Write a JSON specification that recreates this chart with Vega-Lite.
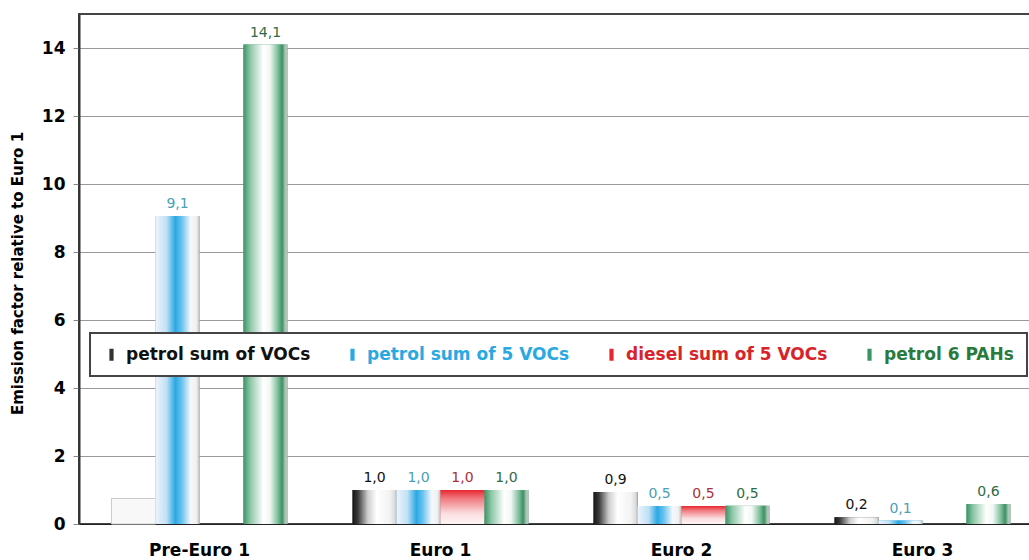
{
  "$schema": "https://vega.github.io/schema/vega-lite/v6.json",
  "autosize": {"type": "none"},
  "padding": {"left": 79, "top": 14, "right": 0, "bottom": 36},
  "width": 964,
  "height": 510,
  "background": "white",
  "config": {
    "font": "DejaVu Sans",
    "view": {"stroke": "#444", "strokeWidth": 2},
    "locale": {"number": {"decimal": ",", "thousands": ".", "grouping": [3], "currency": ["", " €"]}}
  },
  "data": {
    "values": [
      {"stage": "Pre-Euro 1", "series": "petrol sum of VOCs", "value": 0.75},
      {"stage": "Pre-Euro 1", "series": "petrol sum of 5 VOCs", "value": 9.06},
      {"stage": "Pre-Euro 1", "series": "petrol 6 PAHs", "value": 14.1},
      {"stage": "Euro 1", "series": "petrol sum of VOCs", "value": 1.0},
      {"stage": "Euro 1", "series": "petrol sum of 5 VOCs", "value": 1.0},
      {"stage": "Euro 1", "series": "diesel sum of 5 VOCs", "value": 1.0},
      {"stage": "Euro 1", "series": "petrol 6 PAHs", "value": 1.0},
      {"stage": "Euro 2", "series": "petrol sum of VOCs", "value": 0.94},
      {"stage": "Euro 2", "series": "petrol sum of 5 VOCs", "value": 0.53},
      {"stage": "Euro 2", "series": "diesel sum of 5 VOCs", "value": 0.53},
      {"stage": "Euro 2", "series": "petrol 6 PAHs", "value": 0.54},
      {"stage": "Euro 3", "series": "petrol sum of VOCs", "value": 0.2},
      {"stage": "Euro 3", "series": "petrol sum of 5 VOCs", "value": 0.1},
      {"stage": "Euro 3", "series": "petrol 6 PAHs", "value": 0.59}
    ]
  },
  "encoding": {
    "x": {
      "field": "stage", "type": "nominal",
      "sort": ["Pre-Euro 1", "Euro 1", "Euro 2", "Euro 3"],
      "scale": {"paddingInner": 0.27, "paddingOuter": 0.135},
      "axis": {
        "title": null, "labelAngle": 0, "labelFont": "DejaVu Sans", "labelFontWeight": "bold",
        "labelFontSize": 17, "labelColor": "#000", "labelPadding": 18, "ticks": false,
        "domainColor": "#222", "domainWidth": 1
      }
    },
    "xOffset": {
      "field": "series", "type": "nominal",
      "sort": ["petrol sum of VOCs", "petrol sum of 5 VOCs", "diesel sum of 5 VOCs", "petrol 6 PAHs"],
      "scale": {"domain": ["petrol sum of VOCs", "petrol sum of 5 VOCs", "diesel sum of 5 VOCs", "petrol 6 PAHs"], "paddingInner": 0, "paddingOuter": 0}
    },
    "y": {
      "field": "value", "type": "quantitative",
      "scale": {"domain": [0, 15], "nice": false},
      "axis": {
        "title": "Emission factor relative to Euro 1", "titleFontSize": 15, "titleFontWeight": "bold",
        "titleColor": "#000", "titlePadding": 16, "titleY": 259,
        "values": [0, 2, 4, 6, 8, 10, 12, 14], "labelFontSize": 17, "labelFontWeight": "bold",
        "labelColor": "#000", "labelPadding": 8, "tickSize": 6, "tickColor": "#888",
        "domainColor": "#333", "domainWidth": 2, "grid": true, "gridColor": "#9a9a9a", "gridWidth": 1
      }
    }
  },
  "layer": [
    {
      "mark": {"type": "bar"},
      "encoding": {
        "fill": {
          "field": "series", "type": "nominal",
          "scale": {
            "domain": ["petrol sum of VOCs", "petrol sum of 5 VOCs", "diesel sum of 5 VOCs", "petrol 6 PAHs"],
            "range": ["#333333", "#2aa8e4", "#e8262f", "#3a9466"]
          },
          "legend": {
            "title": null, "orient": "none", "direction": "horizontal", "legendX": 11, "legendY": 319,
            "padding": 13, "columnPadding": 33, "labelFontSize": 17, "labelFontWeight": "bold",
            "labelFont": "DejaVu Sans", "labelOffset": 6, "symbolSize": 144,
            "symbolType": "M-0.35,-1H0.35V1H-0.35Z", "symbolStrokeWidth": 0,
            "strokeColor": "#444", "fillColor": "white", "labelLimit": 400,
            "encode": {
              "labels": {"update": {"fill": {"signal": "datum.label === 'petrol sum of VOCs' ? '#111111' : datum.label === 'petrol sum of 5 VOCs' ? '#29a9e1' : datum.label === 'diesel sum of 5 VOCs' ? '#d8232a' : '#2a7a3e'"}}},
              "legend": {"update": {"strokeWidth": {"value": 2}}}
            }
          }
        }
      }
    },
    {
      "mark": {"type": "bar"},
      "encoding": {
        "fill": {
          "condition": [
            {"test": "datum.stage === 'Pre-Euro 1' && datum.series === 'petrol sum of VOCs'", "value": "#f8f8f8"},
            {"test": "datum.series === 'petrol sum of VOCs'", "value": {"gradient": "linear", "x1": 0, "x2": 1, "y1": 0, "y2": 0, "stops": [
              {"offset": 0, "color": "#151515"}, {"offset": 0.12, "color": "#3a3a3a"}, {"offset": 0.35, "color": "#cfcfcf"},
              {"offset": 0.55, "color": "#ffffff"}, {"offset": 0.85, "color": "#f2f2f2"}, {"offset": 0.95, "color": "#dedede"}, {"offset": 1, "color": "#bdbdbd"}]}},
            {"test": "datum.series === 'petrol sum of 5 VOCs'", "value": {"gradient": "linear", "x1": 0, "x2": 1, "y1": 0, "y2": 0, "stops": [
              {"offset": 0, "color": "#eef4fb"}, {"offset": 0.25, "color": "#bfe0f5"}, {"offset": 0.45, "color": "#2aa8e4"},
              {"offset": 0.6, "color": "#6cc3ee"}, {"offset": 0.8, "color": "#f4f8fc"}, {"offset": 0.93, "color": "#f0f0f0"}, {"offset": 1, "color": "#bdbdbd"}]}},
            {"test": "datum.series === 'diesel sum of 5 VOCs'", "value": {"gradient": "linear", "x1": 0, "x2": 0, "y1": 0, "y2": 1, "stops": [
              {"offset": 0, "color": "#e8262f"}, {"offset": 0.25, "color": "#f07a80"}, {"offset": 0.7, "color": "#fbdfe1"}, {"offset": 1, "color": "#fdf3f4"}]}}
          ],
          "value": {"gradient": "linear", "x1": 0, "x2": 1, "y1": 0, "y2": 0, "stops": [
            {"offset": 0, "color": "#3a9466"}, {"offset": 0.15, "color": "#8cc6a6"}, {"offset": 0.45, "color": "#ffffff"},
            {"offset": 0.6, "color": "#f2f8f4"}, {"offset": 0.78, "color": "#7fbf9c"}, {"offset": 0.88, "color": "#3d9064"},
            {"offset": 0.95, "color": "#a9c7b5"}, {"offset": 1, "color": "#c0c0c0"}]}
        },
        "stroke": {
          "condition": {"test": "datum.stage === 'Pre-Euro 1' && datum.series === 'petrol sum of VOCs'", "value": "#cccccc"},
          "value": null
        }
      }
    },
    {
      "transform": [{"filter": "!(datum.stage === 'Pre-Euro 1' && datum.series === 'petrol sum of VOCs')"}],
      "mark": {"type": "text", "baseline": "bottom", "dy": -5, "fontSize": 14, "font": "DejaVu Sans"},
      "encoding": {
        "text": {"field": "value", "type": "quantitative", "format": ".1f"},
        "color": {
          "condition": [
            {"test": "datum.series === 'petrol sum of VOCs'", "value": "#111111"},
            {"test": "datum.series === 'petrol sum of 5 VOCs'", "value": "#4aa0b4"},
            {"test": "datum.series === 'diesel sum of 5 VOCs'", "value": "#a8313b"}
          ],
          "value": "#2f6b45"
        }
      }
    }
  ]
}
